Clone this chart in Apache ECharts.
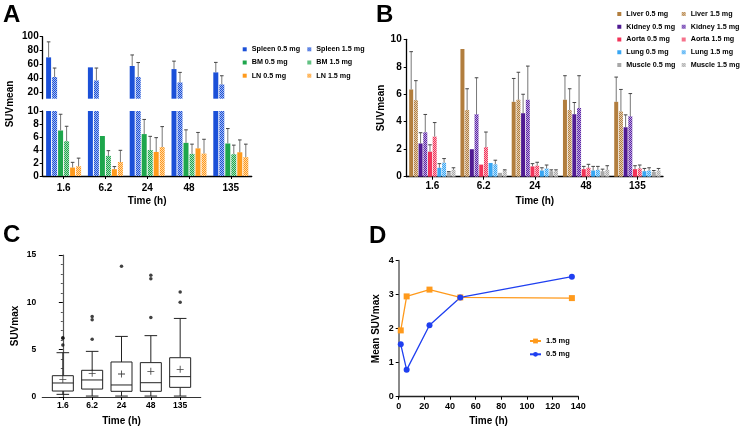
<!DOCTYPE html>
<html>
<head>
<meta charset="utf-8">
<script src="https://cdn.jsdelivr.net/npm/echarts@6/dist/echarts.min.js"></script>
<style>
  html, body { margin: 0; padding: 0; background: #fff; }
  #main { width: 742px; height: 430px; }
</style>
</head>
<body>
<div id="main"></div>
<script>
// ===== data =====
const timeLabels = ['1.6', '6.2', '24', '48', '135'];

// A: SUVmean, mean + SD (one-sided error bars)
const spleen05 = [70, 55.5, 57.5, 53, 48.2];
const spleen05Sd = [22.5, 0, 16, 11.5, 14.5];
const spleen15 = [41.5, 36.5, 41.5, 33.6, 30.7];
const spleen15Sd = [13, 18, 21, 14.6, 12.6];
const bm05 = [7.0, 6.15, 6.45, 5.1, 5.0];
const bm05Sd = [2.5, 0, 2.25, 2.0, 2.3];
const bm15 = [5.35, 3.1, 4.0, 3.4, 3.35];
const bm15Sd = [2.3, 0.8, 2.1, 1.5, 1.4];
const ln05 = [1.3, 1.05, 3.7, 4.25, 3.65];
const ln05Sd = [0.8, 0.4, 2.2, 2.45, 1.9];
const ln15 = [1.5, 2.15, 4.45, 3.45, 2.9];
const ln15Sd = [1.25, 1.8, 3.15, 2.2, 2.0];

// B: SUVmean, mean + SD
const liver05 = [6.35, 9.3, 5.45, 5.6, 5.45];
const liver05Sd = [2.75, 0, 1.7, 1.75, 1.8];
const liver15 = [5.57, 4.85, 5.6, 4.85, 4.75];
const liver15Sd = [1.42, 1.55, 2.0, 1.55, 1.6];
const kidney05 = [2.42, 2.0, 4.62, 4.55, 3.6];
const kidney05Sd = [0.78, 0, 1.38, 0.85, 0.9];
const kidney15 = [3.23, 4.55, 5.6, 5.0, 4.4];
const kidney15Sd = [1.3, 2.65, 2.45, 2.35, 1.65];
const aorta05 = [1.82, 0.88, 0.75, 0.55, 0.55];
const aorta05Sd = [0.5, 0, 0.2, 0.2, 0.25];
const aorta15 = [2.92, 2.15, 0.8, 0.65, 0.6];
const aorta15Sd = [1.02, 1.1, 0.25, 0.25, 0.25];
const lung05 = [0.65, 1.0, 0.45, 0.45, 0.4];
const lung05Sd = [0.3, 0, 0.2, 0.3, 0.2];
const lung15 = [1.02, 0.9, 0.6, 0.5, 0.45];
const lung15Sd = [0.3, 0.3, 0.25, 0.25, 0.2];
const muscle05 = [0.32, 0.28, 0.4, 0.4, 0.35];
const muscle05Sd = [0.05, 0, 0.1, 0.15, 0.1];
const muscle15 = [0.5, 0.45, 0.4, 0.5, 0.45];
const muscle15Sd = [0.15, 0.05, 0.1, 0.3, 0.15];

// C: SUVmax box plot [low, q1, median, q3, high]
const boxStats = [
  [0.28, 0.63, 1.48, 2.25, 4.68],
  [0.1, 0.84, 1.8, 2.82, 4.82],
  [0.1, 0.6, 1.27, 3.7, 6.4],
  [0.1, 0.6, 1.51, 3.63, 6.48],
  [0.1, 1.02, 2.15, 4.15, 8.3]
];
const boxMeans = [1.87, 2.5, 2.43, 2.71, 2.92];
const outliers = [[0, 6.25], [0, 6.2], [0, 5.5], [1, 6.1], [1, 8.15], [1, 8.5],
  [2, 13.8], [3, 8.4], [3, 12.5], [3, 12.85], [4, 10.0], [4, 11.1]];

// D: mean SUVmax over time
const dTimes = [1.6, 6.2, 24, 48, 135];
const dose15 = [1.95, 2.95, 3.15, 2.92, 2.9];
const dose05 = [1.54, 0.79, 2.1, 2.92, 3.53];

// ===== helpers =====
const FONT = 'Liberation Sans, Arial, sans-serif';

// checkered fill for the 1.5 mg bars
function hatch(color) {
  const cv = document.createElement('canvas');
  cv.width = cv.height = 2;
  const c = cv.getContext('2d');
  c.fillStyle = color;
  c.fillRect(0, 0, 2, 2);
  c.fillStyle = 'rgba(255,255,255,0.62)';
  c.fillRect(1, 0, 1, 1);
  c.fillRect(0, 1, 1, 1);
  return { image: cv, repeat: 'repeat' };
}

// one-sided error bar, clipped to the grid
function errRender(offset) {
  return function (params, api) {
    const cs = params.coordSys;
    const sd = api.value(2);
    if (!sd) return;
    const p0 = api.coord([api.value(0), api.value(1)]);
    const p1 = api.coord([api.value(0), api.value(1) + sd]);
    const x = p0[0] + offset;
    const yb = Math.min(p0[1], cs.y + cs.height);
    const yt = Math.max(p1[1], cs.y);
    if (yt >= yb) return;
    const children = [{ type: 'line', shape: { x1: x, y1: yb, x2: x, y2: yt }, style: { stroke: '#777', lineWidth: 1 } }];
    if (p1[1] >= cs.y) {
      children.push({ type: 'line', shape: { x1: x - 1.8, y1: yt, x2: x + 1.8, y2: yt }, style: { stroke: '#444', lineWidth: 1 } });
    }
    return { type: 'group', children };
  };
}

function barGroup(defs, barW, gap, xi, yi) {
  const out = [];
  const step = barW + gap;
  defs.forEach(d => {
    out.push({
      name: d.name, type: 'bar', xAxisIndex: xi, yAxisIndex: yi,
      barWidth: barW, barGap: (gap / barW * 100) + '%',
      itemStyle: { color: d.hatch ? hatch(d.color) : d.color },
      data: d.data
    });
  });
  defs.forEach((d, i) => {
    const offset = (i - (defs.length - 1) / 2) * step;
    out.push({
      name: d.name, type: 'custom', xAxisIndex: xi, yAxisIndex: yi, z: 5,
      renderItem: errRender(offset),
      encode: { x: 0, y: 1 },
      data: d.data.map((v, k) => [k, v, d.sd[k]])
    });
  });
  return out;
}

const aDefs = [
  { name: 'Spleen 0.5 mg', data: spleen05, sd: spleen05Sd, color: '#1b50d8' },
  { name: 'Spleen 1.5 mg', data: spleen15, sd: spleen15Sd, color: '#1b50d8', hatch: true },
  { name: 'BM 0.5 mg', data: bm05, sd: bm05Sd, color: '#1ea64c' },
  { name: 'BM 1.5 mg', data: bm15, sd: bm15Sd, color: '#1ea64c', hatch: true },
  { name: 'LN 0.5 mg', data: ln05, sd: ln05Sd, color: '#ff9a1c' },
  { name: 'LN 1.5 mg', data: ln15, sd: ln15Sd, color: '#ff9a1c', hatch: true }
];
const bDefs = [
  { name: 'Liver 0.5 mg', data: liver05, sd: liver05Sd, color: '#b27e3e' },
  { name: 'Liver 1.5 mg', data: liver15, sd: liver15Sd, color: '#b27e3e', hatch: true },
  { name: 'Kidney 0.5 mg', data: kidney05, sd: kidney05Sd, color: '#4f1a92' },
  { name: 'Kidney 1.5 mg', data: kidney15, sd: kidney15Sd, color: '#5a22a6', hatch: true },
  { name: 'Aorta 0.5 mg', data: aorta05, sd: aorta05Sd, color: '#f23358' },
  { name: 'Aorta 1.5 mg', data: aorta15, sd: aorta15Sd, color: '#f23358', hatch: true },
  { name: 'Lung 0.5 mg', data: lung05, sd: lung05Sd, color: '#38a6f3' },
  { name: 'Lung 1.5 mg', data: lung15, sd: lung15Sd, color: '#38a6f3', hatch: true },
  { name: 'Muscle 0.5 mg', data: muscle05, sd: muscle05Sd, color: '#a8a8a8' },
  { name: 'Muscle 1.5 mg', data: muscle15, sd: muscle15Sd, color: '#a8a8a8', hatch: true }
];

const lbl = (size, extra) => Object.assign({ color: '#000', fontWeight: 'bold', fontFamily: FONT, fontSize: size }, extra || {});
const axisLine = (c, w) => ({ show: true, lineStyle: { color: c || '#000', width: w || 1.3 } });
const tick = (len, extra) => Object.assign({ show: true, length: len || 3, lineStyle: { color: '#000', width: 1 } }, extra || {});
const nameStyle = { color: '#000', fontWeight: 'bold', fontFamily: FONT, fontSize: 10 };

function legendCol(names, left, top, gap, fs) {
  return {
    data: names, orient: 'vertical', left: left, top: top, icon: 'rect',
    itemWidth: 4, itemHeight: 4, itemGap: gap, padding: 0,
    textStyle: lbl(fs, { lineHeight: 9 }),
    selectedMode: false
  };
}

const chart = echarts.init(document.getElementById('main'));

const option = {
  animation: false,
  backgroundColor: '#fff',
  grid: [
    { left: 42.7, top: 36.7, width: 209, height: 62 },     // A top (break)
    { left: 42.7, top: 111, width: 209, height: 65 },      // A bottom
    { left: 406.7, top: 39.3, width: 256.3, height: 137.4 }, // B
    { left: 42.3, top: 255, width: 158.4, height: 142 },   // C
    { left: 398.7, top: 260.7, width: 179.6, height: 136 } // D
  ],
  xAxis: [
    { gridIndex: 0, type: 'category', data: timeLabels, show: false },
    { gridIndex: 1, type: 'category', data: timeLabels, name: 'Time (h)', nameLocation: 'middle', nameGap: 20,
      nameTextStyle: nameStyle, axisLine: axisLine(), axisTick: tick(3, { alignWithLabel: true }),
      axisLabel: lbl(10, { margin: 7 }) },
    { gridIndex: 2, type: 'category', data: timeLabels, name: 'Time (h)', nameLocation: 'middle', nameGap: 20,
      nameTextStyle: nameStyle, axisLine: axisLine(), axisTick: tick(3, { alignWithLabel: true }),
      axisLabel: lbl(10, { margin: 5 }) },
    { gridIndex: 3, type: 'value', min: -0.7, max: 4.7, name: 'Time (h)', nameLocation: 'middle', nameGap: 19,
      nameTextStyle: nameStyle, axisLine: axisLine('#333', 1.2), splitLine: { show: false },
      axisTick: tick(3, { customValues: [0, 1, 2, 3, 4] }),
      axisLabel: lbl(8.5, { margin: 4, customValues: [0, 1, 2, 3, 4], formatter: v => timeLabels[Math.round(v)] }) },
    { gridIndex: 4, type: 'value', min: 0, max: 140, interval: 20, name: 'Time (h)', nameLocation: 'middle', nameGap: 20,
      nameTextStyle: nameStyle, axisLine: axisLine('#222', 1.3), splitLine: { show: false },
      axisTick: tick(3), axisLabel: lbl(9, { margin: 5 }) }
  ],
  yAxis: [
    { gridIndex: 0, type: 'value', min: 10, max: 100, axisLine: axisLine(), splitLine: { show: false },
      axisTick: tick(3, { customValues: [20, 40, 60, 80, 100] }),
      axisLabel: lbl(10, { margin: 4, customValues: [20, 40, 60, 80, 100] }) },
    { gridIndex: 1, type: 'value', min: 0, max: 10, interval: 2, axisLine: axisLine(), splitLine: { show: false },
      axisTick: tick(3), axisLabel: lbl(10, { margin: 4 }) },
    { gridIndex: 2, type: 'value', min: 0, max: 10, interval: 2, name: 'SUVmean', nameLocation: 'middle', nameGap: 18,
      nameTextStyle: nameStyle, axisLine: axisLine(), splitLine: { show: false },
      axisTick: tick(3), axisLabel: lbl(10, { margin: 5 }) },
    { gridIndex: 3, type: 'value', min: 0, max: 15, interval: 5, name: 'SUVmax', nameLocation: 'middle', nameGap: 22,
      nameTextStyle: nameStyle, axisLine: axisLine('#555', 1.2), splitLine: { show: false },
      axisTick: tick(4), minorTick: { show: true, splitNumber: 5, length: 2, lineStyle: { color: '#555' } },
      axisLabel: lbl(8.5, { margin: 6 }) },
    { gridIndex: 4, type: 'value', min: 0, max: 4, interval: 1, name: 'Mean SUVmax', nameLocation: 'middle', nameGap: 17,
      nameTextStyle: nameStyle, axisLine: axisLine('#8a8a8a', 2), splitLine: { show: false },
      axisTick: tick(3), axisLabel: lbl(9, { margin: 5 }) }
  ],
  legend: [
    legendCol(['Spleen 0.5 mg', 'BM 0.5 mg', 'LN 0.5 mg'], 242.7, 44.8, 4.2, 7.2),
    legendCol(['Spleen 1.5 mg', 'BM 1.5 mg', 'LN 1.5 mg'], 307.3, 44.8, 4.2, 7.2),
    legendCol(['Liver 0.5 mg', 'Kidney 0.5 mg', 'Aorta 0.5 mg', 'Lung 0.5 mg', 'Muscle 0.5 mg'], 617.3, 9.5, 3.75, 7.2),
    legendCol(['Liver 1.5 mg', 'Kidney 1.5 mg', 'Aorta 1.5 mg', 'Lung 1.5 mg', 'Muscle 1.5 mg'], 681.7, 9.5, 3.75, 7.2),
    {
      data: ['1.5 mg', '0.5 mg'], orient: 'vertical', left: 529, top: 336.5,
      itemWidth: 11, itemHeight: 6, itemGap: 4.3, padding: 0, selectedMode: false,
      textStyle: lbl(7.5, { lineHeight: 9 })
    }
  ],
  graphic: [
    { type: 'text', left: 3, top: 3, style: { text: 'A', font: 'bold 24px ' + FONT, fill: '#000' } },
    { type: 'text', left: 376, top: 3, style: { text: 'B', font: 'bold 24px ' + FONT, fill: '#000' } },
    { type: 'text', left: 3, top: 223, style: { text: 'C', font: 'bold 24px ' + FONT, fill: '#000' } },
    { type: 'text', left: 369, top: 224, style: { text: 'D', font: 'bold 24px ' + FONT, fill: '#000' } },
    { type: 'text', x: 10, y: 104, rotation: Math.PI / 2,
      style: { text: 'SUVmean', font: 'bold 10px ' + FONT, fill: '#000', align: 'center', verticalAlign: 'middle' } }
  ],
  series: [].concat(
    barGroup(aDefs, 5, 1, 0, 0),
    barGroup(aDefs, 5, 1, 1, 1),
    barGroup(bDefs, 4, 0.7, 2, 2),
    [
      {
        type: 'custom', xAxisIndex: 3, yAxisIndex: 3,
        encode: { x: 0, y: [1, 2, 3, 4, 5] },
        data: boxStats.map((b, i) => [i].concat(b)),
        renderItem: function (params, api) {
          const x = api.coord([api.value(0), 0])[0];
          const y = [1, 2, 3, 4, 5].map(k => api.coord([api.value(0), api.value(k)])[1]);
          const hw = 10.5, cw = 6.3;
          const st = { stroke: '#222', lineWidth: 1 };
          return {
            type: 'group',
            children: [
              { type: 'line', shape: { x1: x, y1: y[0], x2: x, y2: y[1] }, style: st },
              { type: 'line', shape: { x1: x, y1: y[3], x2: x, y2: y[4] }, style: st },
              { type: 'line', shape: { x1: x - cw, y1: y[0], x2: x + cw, y2: y[0] }, style: st },
              { type: 'line', shape: { x1: x - cw, y1: y[4], x2: x + cw, y2: y[4] }, style: st },
              { type: 'rect', shape: { x: x - hw, y: y[3], width: hw * 2, height: y[1] - y[3] }, style: { fill: '#fff', stroke: '#222', lineWidth: 1 } },
              { type: 'line', shape: { x1: x - hw, y1: y[2], x2: x + hw, y2: y[2] }, style: st }
            ]
          };
        }
      },
      {
        type: 'scatter', xAxisIndex: 3, yAxisIndex: 3, z: 5,
        symbol: 'path://M4.4,0H5.6V4.4H10V5.6H5.6V10H4.4V5.6H0V4.4H4.4Z', symbolSize: 7,
        itemStyle: { color: '#111' },
        data: boxMeans.map((m, i) => [i, m])
      },
      {
        type: 'scatter', xAxisIndex: 3, yAxisIndex: 3, symbol: 'circle', symbolSize: 3.5,
        itemStyle: { color: '#111' },
        data: outliers
      },
      {
        name: '1.5 mg', type: 'line', xAxisIndex: 4, yAxisIndex: 4,
        symbol: 'rect', symbolSize: 6, color: '#ff9a1c',
        lineStyle: { width: 1.3, color: '#ff9a1c' }, itemStyle: { color: '#ff9a1c' },
        data: dTimes.map((t, i) => [t, dose15[i]])
      },
      {
        name: '0.5 mg', type: 'line', xAxisIndex: 4, yAxisIndex: 4,
        symbol: 'circle', symbolSize: 6, color: '#1f3ff0',
        lineStyle: { width: 1.3, color: '#1f3ff0' }, itemStyle: { color: '#1f3ff0' },
        data: dTimes.map((t, i) => [t, dose05[i]])
      }
    ]
  )
};

chart.setOption(option);
</script>
</body>
</html>
